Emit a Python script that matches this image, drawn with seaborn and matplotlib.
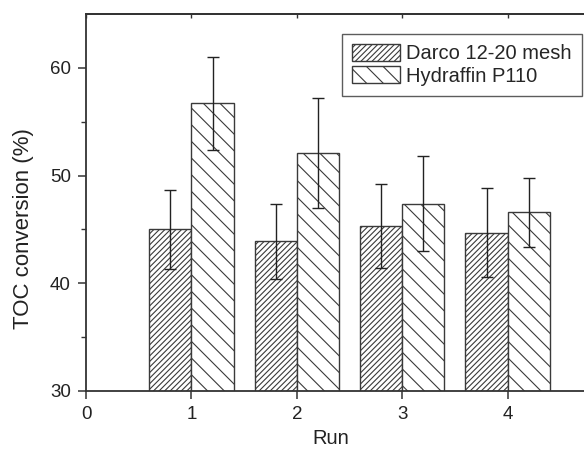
import pandas as pd
import matplotlib
matplotlib.use('Agg')
import matplotlib.pyplot as plt
import seaborn as sns
from matplotlib.patches import Patch

# -----------------------------
# data
# -----------------------------
runs = [1, 2, 3, 4]
darco = [45.0, 43.9, 45.3, 44.7]
darco_err = [3.7, 3.5, 3.9, 4.1]
hydraffin = [56.7, 52.1, 47.4, 46.6]
hydraffin_err = [4.3, 5.1, 4.4, 3.2]
series_names = ['Darco 12-20 mesh', 'Hydraffin P110']
hatches = ['//////', '\\\\']

sns.set_style('ticks')
plt.rcParams['font.family'] = ['Liberation Sans', 'DejaVu Sans']
plt.rcParams['hatch.linewidth'] = 0.8

df = pd.DataFrame({
    'Run': runs * 2,
    'TOC': darco + hydraffin,
    'err': darco_err + hydraffin_err,
    'series': [series_names[0]] * 4 + [series_names[1]] * 4,
})

fig = plt.figure(figsize=(5.84, 4.53), dpi=100)
ax = fig.add_axes([0.1473, 0.1369, 0.9024, 0.8322])

sns.barplot(data=df, x='Run', y='TOC', hue='series', hue_order=series_names,
            native_scale=True, width=0.8, errorbar=None, legend=False,
            palette=['white', 'white'], edgecolor='#3a3a3a', linewidth=1.0,
            saturation=1, ax=ax)

# hatches + error bars per series
for cont, h, err in zip(ax.containers, hatches, [darco_err, hydraffin_err]):
    xs, ys = [], []
    for p in cont.patches:
        p.set_hatch(h)
        p.set_facecolor('white')
        p.set_edgecolor('#3a3a3a')
        xs.append(p.get_x() + p.get_width() / 2)
        ys.append(p.get_height())
    ax.errorbar(xs, ys, yerr=err, fmt='none', ecolor='#222222',
                elinewidth=1.0, capsize=4, capthick=1.0)

ax.set_xlim(0, 5)
ax.set_ylim(30, 65)
ax.set_xticks([0, 1, 2, 3, 4])
ax.set_yticks([30, 40, 50, 60])
ax.set_yticks([35, 45, 55], minor=True)
ax.tick_params(axis='both', which='major', direction='out', length=6,
               width=1.1, labelsize=13.5, pad=5, color='#333333',
               labelcolor='#222222')
ax.tick_params(axis='y', which='minor', direction='out', length=3.5,
               width=1.0, color='#333333')
for s in ax.spines.values():
    s.set_color('#333333')
    s.set_linewidth(1.3)
ax.spines['right'].set_visible(False)

top = ax.secondary_xaxis('top')
top.set_xticks([0, 1, 2, 3, 4])
top.tick_params(direction='in', length=3, width=1.0, labeltop=False,
                color='#333333')
top.spines['top'].set_color('#333333')
top.spines['top'].set_linewidth(1.3)

ax.set_xlabel('Run', fontsize=14.5, color='#222222')
ax.set_ylabel('TOC conversion (%)', fontsize=16, color='#222222')
ax.xaxis.set_label_coords(0.464, -0.1)
ax.yaxis.set_label_coords(-0.0987, 0.431)

handles = [Patch(facecolor='white', edgecolor='#3a3a3a', hatch=h, label=n)
           for h, n in zip(hatches, series_names)]
leg = ax.legend(handles=handles, loc='upper right',
                bbox_to_anchor=(0.9966, 0.925), bbox_transform=fig.transFigure,
                borderaxespad=0, fontsize=14.5, fancybox=False, frameon=True,
                handlelength=2.4, handleheight=0.9, handletextpad=0.3,
                labelspacing=0.15, borderpad=0.5)
leg.get_frame().set_edgecolor('#333333')
leg.get_frame().set_linewidth(1.0)

fig.savefig('out.png', dpi=100)
